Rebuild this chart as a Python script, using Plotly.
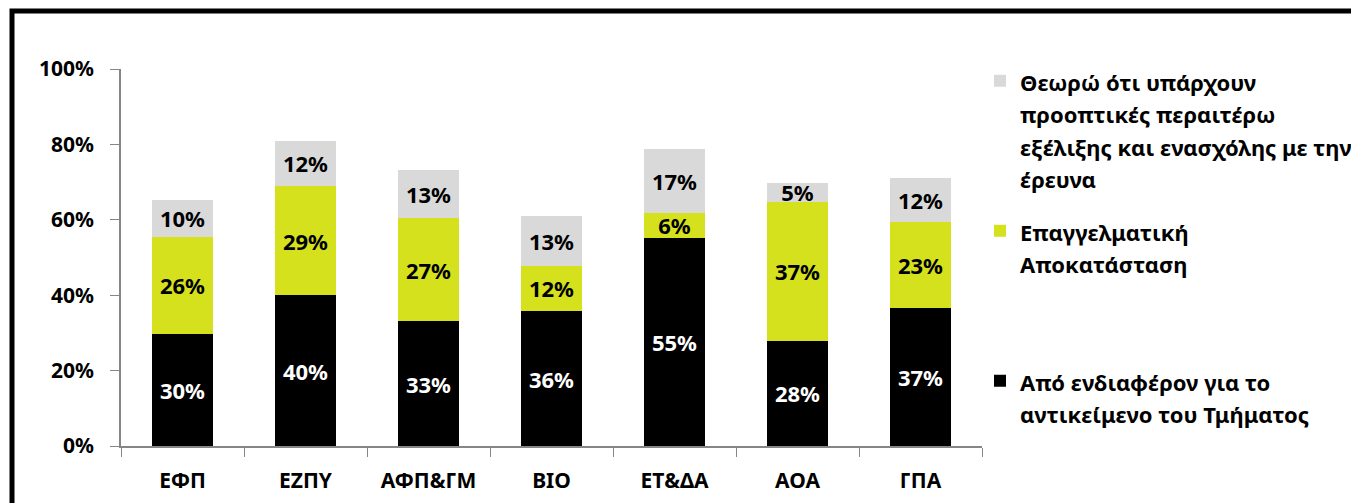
import plotly.graph_objects as go

categories = ["ΕΦΠ", "ΕΖΠΥ", "ΑΦΠ&ΓΜ", "ΒΙΟ", "ΕΤ&ΔΑ", "ΑΟΑ", "ΓΠΑ"]
interest = [29.8, 40.0, 33.1, 35.8, 55.3, 27.9, 36.6]
employment = [25.6, 29.0, 27.4, 12.0, 6.4, 36.9, 22.9]
research = [9.9, 12.0, 12.7, 13.1, 17.2, 5.0, 11.6]

names = [
    "Από ενδιαφέρον για το<br>αντικείμενο του Τμήματος",
    "Επαγγελματική<br>Αποκατάσταση<br> <br> ",
    "Θεωρώ ότι υπάρχουν<br>προοπτικές περαιτέρω<br>εξέλιξης και ενασχόλης με την<br>έρευνα",
]
colors = ["#000000", "#D5E11D", "#D9D9D9"]
text_colors = ["#FFFFFF", "#000000", "#000000"]
FONT = "Noto Sans, Open Sans, sans-serif"

def wrap(label):
    return "<br>".join('<span style="font-size:22px">%s</span>' % p for p in label.split("<br>"))

fig = go.Figure()
for i, (vals, name, col, tcol) in enumerate(zip([interest, employment, research], names, colors, text_colors)):
    fig.add_trace(go.Bar(
        x=categories, y=vals, name=wrap(name), legendgroup="g%d" % i, legendrank=1000 - i,
        marker=dict(color=col, line=dict(width=0)),
        texttemplate="%{y:.0f}%", textposition="inside", insidetextanchor="middle",
        textangle=0, constraintext="none",
        textfont=dict(family=FONT, size=22, color=tcol, weight="bold"),
    ))

W, H = 1351, 503
L, R, T, B = 121, 982, 69, 446
fig.update_layout(
    width=W, height=H,
    barmode="stack", bargap=0.5,
    plot_bgcolor="white", paper_bgcolor="white",
    margin=dict(l=L, r=W - R, t=T, b=H - B, autoexpand=False),
    font=dict(family=FONT, size=21, color="#000000", weight="bold"),
    legend=dict(
        xref="container", yref="container",
        x=980 / W, y=1 - 58 / H, xanchor="left", yanchor="top",
        traceorder="grouped", valign="top", tracegroupgap=17,
        maxheight=480,
        font=dict(family=FONT, size=25, color="#000000", weight="bold"),
        bgcolor="rgba(0,0,0,0)",
    ),
    xaxis=dict(
        showline=True, linecolor="#868686", linewidth=1.5,
        ticks="outside", ticklen=9, tickcolor="#868686", tickson="boundaries",
        tickfont=dict(family=FONT, size=21, color="#000000", weight="bold"),
        ticklabelstandoff=15,
    ),
    yaxis=dict(
        range=[0, 100], dtick=20, ticksuffix="%",
        showline=True, linecolor="#868686", linewidth=1.5,
        ticks="outside", ticklen=9, tickcolor="#868686",
        showgrid=False, zeroline=False,
        tickfont=dict(family=FONT, size=21, color="#000000", weight="bold"),
        ticklabelstandoff=12,
    ),
)

# outer chart frame (extends past the right and bottom edges)
pw, ph = R - L, B - T
fig.add_shape(type="rect", xref="paper", yref="paper",
              x0=(12 - L) / pw, x1=(W + 20 - L) / pw,
              y0=(B - (H + 20)) / ph, y1=(B - 11) / ph,
              line=dict(color="#000000", width=5), fillcolor="rgba(0,0,0,0)", layer="above")

fig.write_html("out.html", config={"displayModeBar": False},
               post_script="document.body.style.margin='0';document.body.style.overflow='hidden';")
